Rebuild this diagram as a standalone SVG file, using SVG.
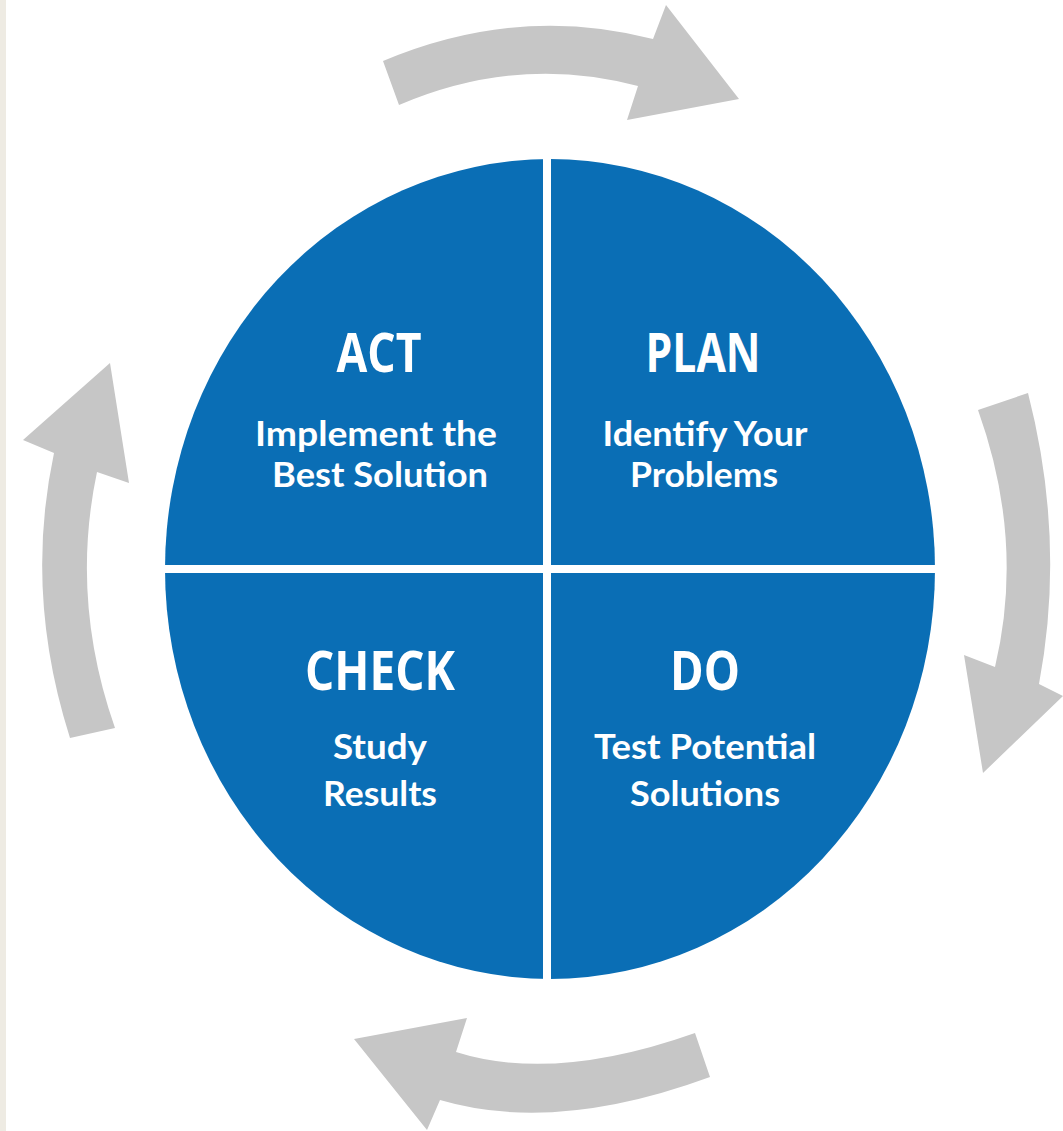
<svg xmlns="http://www.w3.org/2000/svg" width="1063" height="1131" viewBox="0 0 1063 1131">
  <style>
    .quad { fill: #0a6eb5; }
    .arrow { fill: #c6c6c6; }
    .title { font-family: "Open Sans", "Liberation Sans", sans-serif; font-weight: 700; font-size: 53px; fill: #ffffff; text-anchor: middle; }
    .sub { font-family: Lato, "Open Sans", "Liberation Sans", sans-serif; font-weight: 700; font-size: 34px; fill: #ffffff; text-anchor: middle; }
  </style>
  <defs>
    <clipPath id="disc">
      <ellipse cx="550" cy="569" rx="385" ry="410"/>
    </clipPath>
  </defs>

  <!-- page background and left margin strip -->
  <rect x="0" y="0" width="1063" height="1131" fill="#ffffff"/>
  <rect x="0" y="0" width="6" height="1131" fill="#eeebe3"/>

  <!-- cycle arrows around the disc -->
  <g id="connectors">
    <path class="arrow" d="M383,61 Q518,4 653,39 L666,5 L739,99 L627,120 L638,86 Q518,54 399,105 Z"/>
    <path class="arrow" d="M978,410 L1028,393 Q1066,541 1039,684 L1063,696 L983,773 L964,655 L995,667 Q1025,541 978,410 Z"/>
    <path class="arrow" d="M695,1033 L710,1077 Q555,1134 440,1100 L427,1130 L354,1039 L467,1018 L456,1052 Q554,1083 695,1033 Z"/>
    <path class="arrow" d="M110,363 L129,483 L97,472 Q70,600 115,728 L70,738 Q24,594 54,453 L23,440 Z"/>
  </g>

  <g id="act" clip-path="url(#disc)">
    <rect class="quad" x="0" y="0" width="543" height="565"/>
    <text class="title" x="379" y="372" textLength="85" lengthAdjust="spacingAndGlyphs">ACT</text>
    <text class="sub" x="376" y="446" textLength="242" lengthAdjust="spacingAndGlyphs">Implement the</text>
    <text class="sub" x="380" y="487" textLength="216" lengthAdjust="spacingAndGlyphs">Best Solution</text>
  </g>

  <g id="plan" clip-path="url(#disc)">
    <rect class="quad" x="551" y="0" width="512" height="565"/>
    <text class="title" x="703" y="372" textLength="115" lengthAdjust="spacingAndGlyphs">PLAN</text>
    <text class="sub" x="705" y="446" textLength="205" lengthAdjust="spacingAndGlyphs">Identify Your</text>
    <text class="sub" x="704" y="487" textLength="148" lengthAdjust="spacingAndGlyphs">Problems</text>
  </g>

  <g id="check" clip-path="url(#disc)">
    <rect class="quad" x="0" y="573" width="543" height="558"/>
    <text class="title" x="380" y="690" textLength="150" lengthAdjust="spacingAndGlyphs">CHECK</text>
    <text class="sub" x="380" y="759" textLength="94" lengthAdjust="spacingAndGlyphs">Study</text>
    <text class="sub" x="380" y="806" textLength="114" lengthAdjust="spacingAndGlyphs">Results</text>
  </g>

  <g id="do" clip-path="url(#disc)">
    <rect class="quad" x="551" y="573" width="512" height="558"/>
    <text class="title" x="705" y="690" textLength="70" lengthAdjust="spacingAndGlyphs">DO</text>
    <text class="sub" x="705" y="759" textLength="222" lengthAdjust="spacingAndGlyphs">Test Potential</text>
    <text class="sub" x="705" y="806" textLength="150" lengthAdjust="spacingAndGlyphs">Solutions</text>
  </g>
</svg>
